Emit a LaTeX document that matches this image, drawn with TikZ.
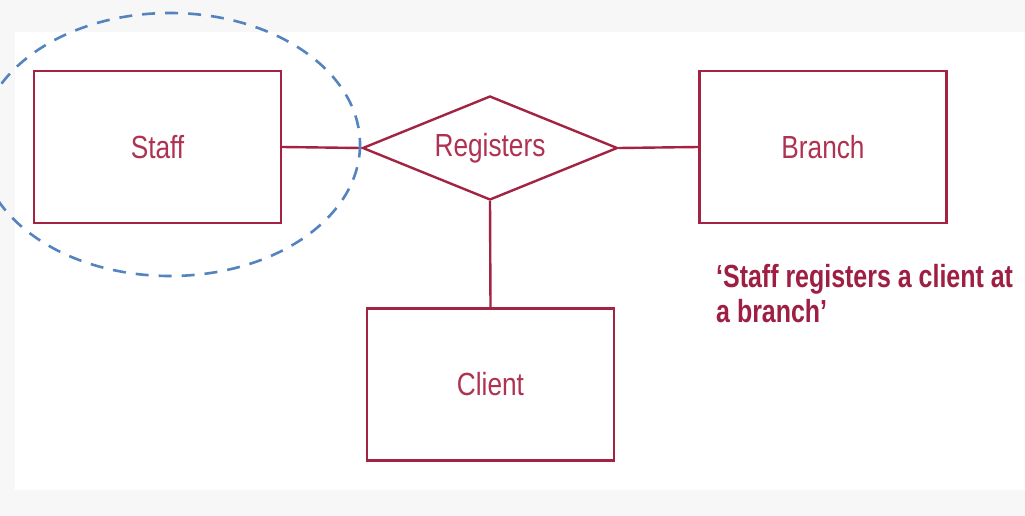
\documentclass[tikz,border=0pt]{standalone}
\usepackage{fontspec}
\setmainfont{Liberation Sans}
\newfontfamily\narrowfont[FakeStretch=0.82]{Liberation Sans}
\newfontfamily\narrowbold[FakeStretch=0.78]{Liberation Sans Bold}
\usetikzlibrary{shapes.geometric}
\definecolor{erred}{RGB}{163,36,66}
\definecolor{erlabel}{RGB}{176,50,82}
\definecolor{ertext}{RGB}{158,30,68}
\definecolor{erblue}{RGB}{84,132,192}
\definecolor{bggray}{RGB}{247,247,247}
\begin{document}
\begin{tikzpicture}[x=1pt,y=-1pt,
  entity/.style={draw=erred, line width=2.4pt, minimum width=247pt, minimum height=152pt, inner sep=0pt,
    font=\narrowfont\fontsize{32}{36}\selectfont, text=erlabel},
  rel/.style={draw=erred, line width=2.4pt, diamond, aspect=2.45, minimum width=255pt, minimum height=104pt, inner sep=0pt,
    font=\narrowfont\fontsize{32}{36}\selectfont, text=erlabel},
  link/.style={draw=erred, line width=2.4pt},
  focus/.style={draw=erblue, line width=2.6pt, dash pattern=on 13pt off 10pt}]
\useasboundingbox (0,0) rectangle (1025,516);
\fill[bggray] (0,0) rectangle (1025,516);
\fill[white] (15,32) rectangle (1025,490);
\node[entity] (staff) at (157.5,147) {Staff};
\node[entity] (branch) at (823,147) {Branch};
\node[entity] (client) at (490.5,384.5) {Client};
\node[rel, minimum width=255pt] (reg) at (490,148) {Registers};
\draw[link] (staff.east) -- (reg.west);
\draw[link] (reg.east) -- (branch.west);
\draw[link] (reg.south) -- (client.north);
\draw[focus] (170,144.5) ellipse [x radius=190, y radius=131.5];
\node[anchor=base west, align=left, inner sep=0pt, text=ertext,
  font=\narrowbold\fontsize{32}{35}\selectfont] (quote) at (716,322)
  {‘Staff registers a client at\\a branch’};
\end{tikzpicture}
\end{document}
